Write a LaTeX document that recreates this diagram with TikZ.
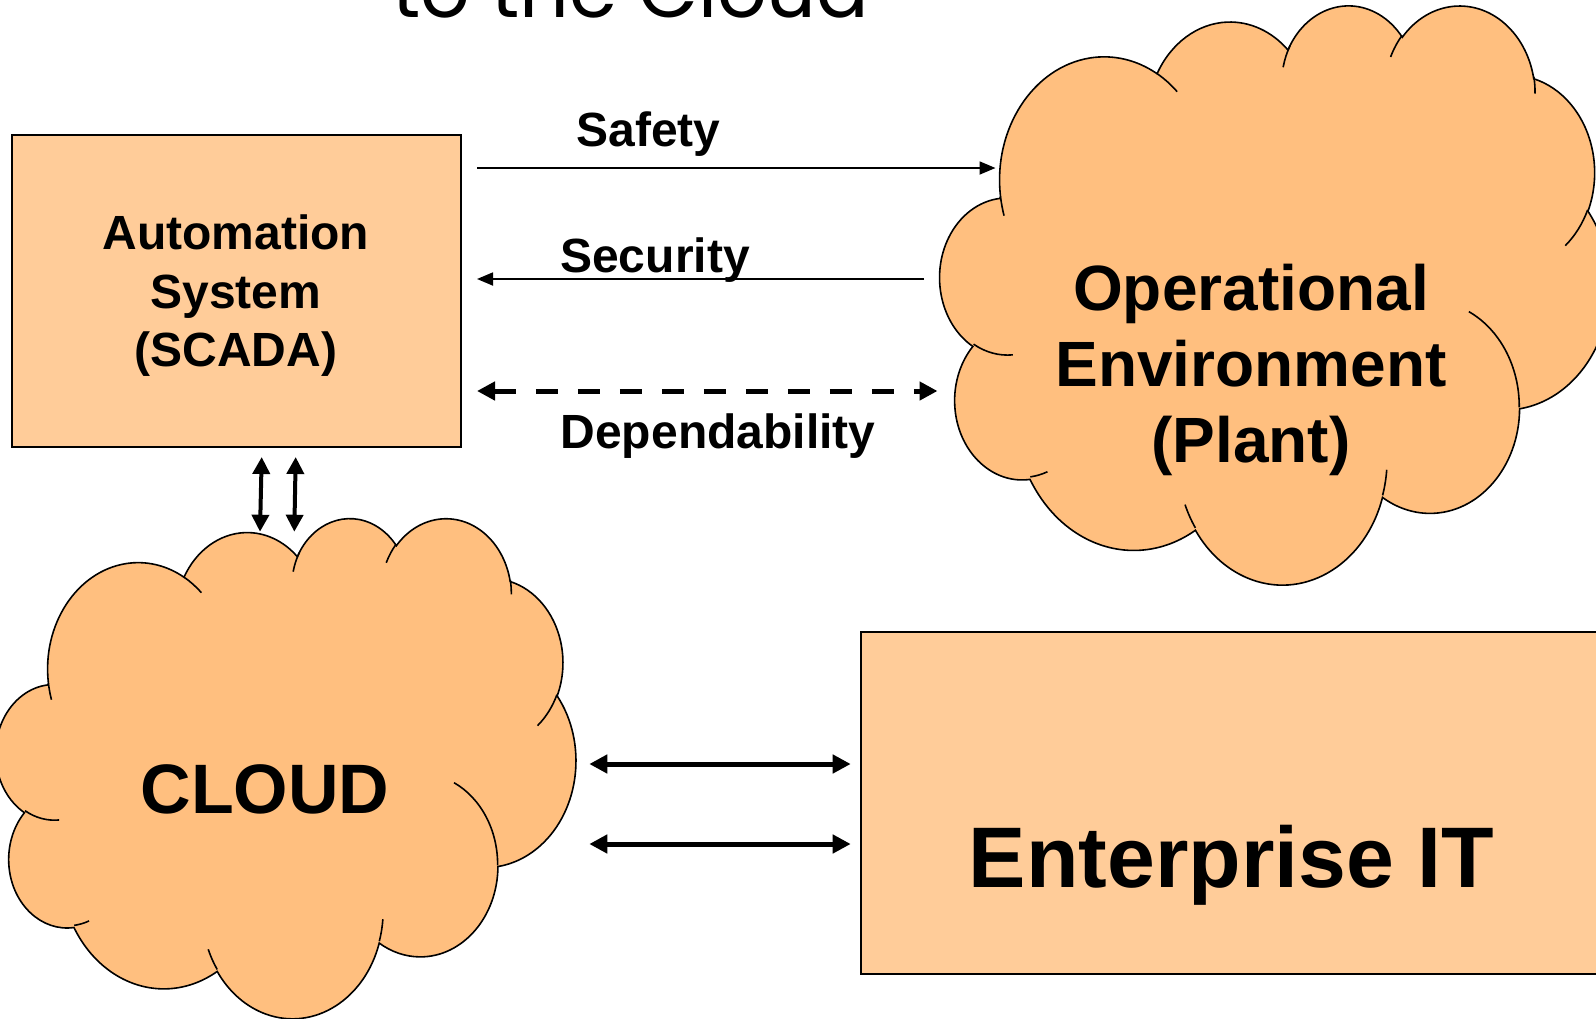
\documentclass[tikz,border=0pt]{standalone}
\usepackage{graphicx}
\usepackage{fontspec}
\setmainfont{Liberation Sans}
\newfontfamily\titlefont{Poppins}
\usetikzlibrary{arrows.meta}
\definecolor{boxfill}{RGB}{255,204,153}
\definecolor{cloudfill}{RGB}{255,191,127}

% PowerPoint style arc: wR, hR, start angle, sweep (visual angles)
\newcommand\cloudarc[4]{%
  \pgfextra{%
    \pgfmathsetmacro\cloudA{atan2((#1)*sin(#3),(#2)*cos(#3))}%
    \pgfmathsetmacro\cloudB{atan2((#1)*sin((#3)+(#4)),(#2)*cos((#3)+(#4)))}%
    \pgfmathsetmacro\cloudD{\cloudB-\cloudA}%
    \pgfmathsetmacro\cloudD{ifthenelse(\cloudD<0,\cloudD+360,\cloudD)}%
    \pgfmathsetmacro\cloudE{ifthenelse((#4)<0,\cloudA+\cloudD-360,\cloudA+\cloudD)}%
    \xdef\cloudA{\cloudA}\xdef\cloudE{\cloudE}%
  }%
  arc[x radius=#1, y radius=#2, start angle=\cloudA, end angle=\cloudE]}

\newcommand\drawpptcloud{%
  \path[cloudshape] (39.00,143.70)
    \cloudarc{67.53}{91.90}{-190.4875}{123.7805}
    \cloudarc{53.33}{72.67}{-144.1024}{89.9452}
    \cloudarc{43.65}{59.45}{-145.8079}{99.7230}
    \cloudarc{48.57}{65.95}{-130.9861}{117.2417}
    \cloudarc{53.33}{72.73}{-78.7089}{109.0269}
    \cloudarc{67.75}{92.20}{-46.2673}{130.2690}
    \cloudarc{57.85}{78.67}{0.6250}{114.0333}
    \cloudarc{67.52}{92.15}{22.4516}{115.1726}
    \cloudarc{77.20}{105.43}{66.2426}{75.7110}
    \cloudarc{43.60}{59.18}{-274.9421}{146.7356}
    \cloudarc{43.45}{59.45}{-246.8285}{152.5189}
    -- cycle;
  \path[cloudmark]
    (46.93,261.77) \cloudarc{43.45}{59.45}{86.7420}{26.4295}
    (69.28,348.99) \cloudarc{43.60}{59.18}{73.6105}{11.4475}
    (164.78,390.90) \cloudarc{67.52}{92.15}{137.6242}{14.0811}
    (288.27,347.51) \cloudarc{67.52}{92.15}{6.4533}{15.9984}
    (341.29,229.54) \cloudarc{57.85}{78.67}{-70.2924}{70.9174}
    (417.98,153.54) \cloudarc{53.33}{72.73}{30.3180}{27.7515}
    (383.24,54.26) \cloudarc{48.57}{65.95}{-13.7443}{14.8589}
    (290.78,39.52) \cloudarc{48.57}{65.95}{-149.1815}{18.1954}
    (221.41,47.20) \cloudarc{43.65}{59.45}{-163.4943}{20.7653}
    (140.00,51.92) \cloudarc{67.53}{91.90}{-66.7070}{12.3194}
    (41.27,157.89) \cloudarc{67.53}{91.90}{157.6544}{11.8582};
}

\tikzset{
  cloudshape/.style={draw=black, line width=1.6pt, fill=cloudfill},
  cloudmark/.style={draw=black, line width=1.6pt},
  boxnode/.style={draw=black, line width=2pt, fill=boxfill, inner sep=0pt},
  lbl/.style={inner sep=0pt, anchor=base, font=\bfseries\fontsize{48}{58.8}\selectfont},
  thinarrow/.style={line width=1.8pt, -{Triangle[length=16pt,width=13pt]}},
  dasharrow/.style={line width=5pt, dash pattern=on 22pt off 20pt,
    {Triangle[length=18pt,width=18pt]}-{Triangle[length=18pt,width=18pt]}},
  bigarrow/.style={line width=5pt,
    {Triangle[length=18pt,width=18pt]}-{Triangle[length=18pt,width=18pt]}},
  vertarrow/.style={line width=4pt,
    {Triangle[length=17pt,width=17pt]}-{Triangle[length=17pt,width=17pt]}},
}

\begin{document}
\begin{tikzpicture}[x=1pt,y=-1pt]
\useasboundingbox (0,0) rectangle (1596,1018);
\clip (0,0) rectangle (1596,1018);

% title (cut off at top)
\node[inner sep=0pt, anchor=base west] (title) at (392,17)
  {\resizebox{477pt}{!}{\titlefont\fontsize{80}{90}\selectfont to the Cloud}};

% clouds
\begin{scope}[shift={(940.1,4)}, x=1.5493pt, y=-1.3403pt]
  \drawpptcloud
\end{scope}
\begin{scope}[shift={(-3.9,517)}, x=1.3417pt, y=-1.1574pt]
  \drawpptcloud
\end{scope}

% boxes
\node[boxnode, minimum width=449pt, minimum height=311.5pt] (scada) at (236.5,290.75) {};
\node[boxnode, minimum width=789pt, minimum height=341.5pt] (entit) at (1255.5,802.75) {};

% texts
\node[inner sep=0pt, align=center, font=\bfseries\fontsize{48}{58.8}\selectfont]
  (scadatext) at (235.9,295.65) {Automation\\System\\(SCADA)};
\node[inner sep=0pt, align=center, font=\bfseries\fontsize{64}{76.3}\selectfont]
  (plant) at (1251,369.9) {Operational\\Environment\\(Plant)};
\node[lbl, font=\bfseries\fontsize{70}{84}\selectfont] (cloud) at (265,813.3) {CLOUD};
\node[lbl, font=\bfseries\fontsize{86}{100}\selectfont] (entittext) at (1231.6,887) {Enterprise IT};
\node[lbl] (safety) at (648.4,146.6) {Safety};
\node[lbl] (security) at (655,272.8) {Security};
\node[lbl] (depend) at (718,448) {Dependability};

% connector end points
\coordinate (safA) at (477,168);   \coordinate (safB) at (995.5,168);
\coordinate (secA) at (924,279);   \coordinate (secB) at (477,279);
\coordinate (depA) at (477,391);   \coordinate (depB) at (937.5,391);
\coordinate (v1a) at (261.7,457);  \coordinate (v1b) at (260,531.7);
\coordinate (v2a) at (295.7,457);  \coordinate (v2b) at (294.3,531.7);
\coordinate (h1a) at (589.3,764);  \coordinate (h1b) at (850.7,764);
\coordinate (h2a) at (589.3,844);  \coordinate (h2b) at (850.7,844);

% connectors
\draw[thinarrow] (safA) -- (safB);
\draw[thinarrow] (secA) -- (secB);
\draw[dasharrow] (depA) -- (depB);
\draw[vertarrow] (v1a) -- (v1b);
\draw[vertarrow] (v2a) -- (v2b);
\draw[bigarrow] (h1a) -- (h1b);
\draw[bigarrow] (h2a) -- (h2b);
\end{tikzpicture}
\end{document}
